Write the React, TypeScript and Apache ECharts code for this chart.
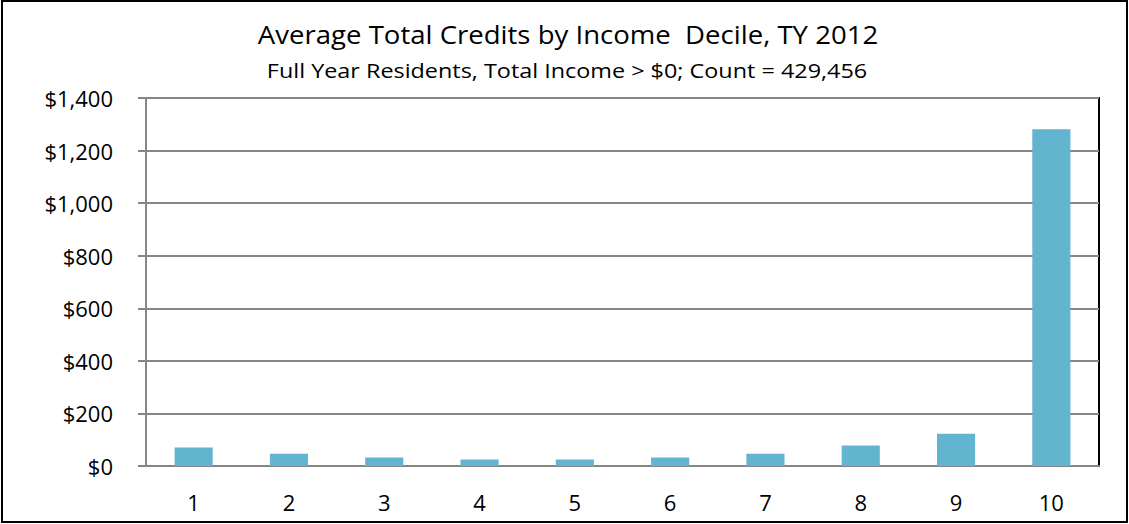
import React, { useEffect, useRef } from "react";
import * as echarts from "echarts";

const categories = ["1", "2", "3", "4", "5", "6", "7", "8", "9", "10"];
const avgCredits = [70, 47, 32, 25, 25, 32, 47, 78, 123, 1281];
const titleText = "Average Total Credits by Income  Decile, TY 2012";
const subtitleText = "Full Year Residents, Total Income > $0; Count = 429,456";

const FONT = "Open Sans";

export default function App() {
  const ref = useRef<HTMLDivElement>(null);
  useEffect(() => {
    document.body.style.margin = "0";
    const chart = echarts.init(ref.current!, null, { renderer: "svg" });
    chart.setOption({
      animation: false,
      backgroundColor: "#ffffff",
      grid: { left: 146, top: 98, right: 30, bottom: 58, show: true, borderColor: "#000", borderWidth: 2 },
      xAxis: {
        type: "category",
        data: categories,
        axisLine: { lineStyle: { color: "#868686", width: 2 } },
        axisTick: { length: 7, lineStyle: { color: "#868686", width: 2 } },
        axisLabel: { fontFamily: FONT, fontSize: 22, color: "#000", margin: 25 },
      },
      yAxis: {
        type: "value",
        min: 0,
        max: 1400,
        interval: 200,
        axisLine: { show: true, lineStyle: { color: "#868686", width: 2 } },
        axisTick: { show: true, length: 8, lineStyle: { color: "#868686", width: 2 } },
        splitLine: { lineStyle: { color: "#868686", width: 2 } },
        axisLabel: {
          fontFamily: FONT,
          fontSize: 22,
          color: "#000",
          margin: 33,
          formatter: (v: number) => "$" + v.toLocaleString("en-US"),
        },
      },
      series: [
        {
          type: "bar",
          data: avgCredits,
          barWidth: "40%",
          itemStyle: { color: "#62B4CF" },
        },
      ],
      graphic: [
        {
          type: "rect",
          shape: { x: 2, y: 1, width: 1125, height: 521 },
          style: { fill: "none", stroke: "#000", lineWidth: 2 },
          silent: true,
        },
        {
          type: "text",
          x: 568,
          y: 34,
          scaleX: 1.06,
          style: {
            text: titleText,
            fontFamily: FONT,
            fontSize: 26,
            fill: "#000",
            align: "center",
            verticalAlign: "middle",
          },
        },
        {
          type: "text",
          x: 567,
          y: 70,
          scaleX: 1.17,
          style: {
            text: subtitleText,
            fontFamily: FONT,
            fontSize: 20,
            fill: "#000",
            align: "center",
            verticalAlign: "middle",
          },
        },
      ],
    });
    return () => chart.dispose();
  }, []);
  return <div ref={ref} style={{ width: 1129, height: 524 }} />;
}
